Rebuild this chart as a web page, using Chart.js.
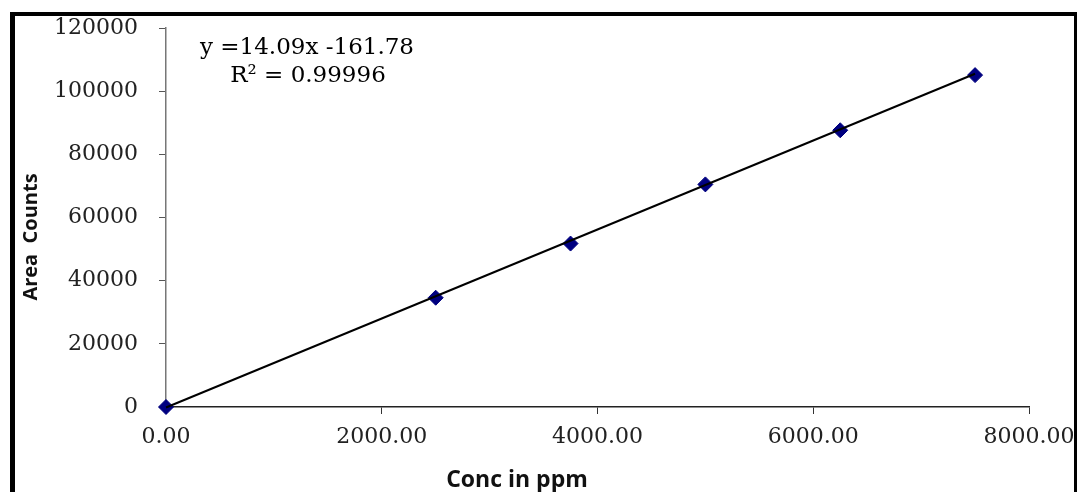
<!DOCTYPE html>
<html>
<head>
<meta charset="utf-8">
<script src="https://cdn.jsdelivr.net/npm/chart.js@4/dist/chart.umd.min.js"></script>
<style>
  html, body { margin: 0; padding: 0; background: #fff; overflow: hidden; }
  #wrap { position: relative; width: 1077px; height: 492px; }
  #frame { position: absolute; left: 10px; top: 12px; width: 1059px; height: 500px;
           border-left: 5px solid #000; border-top: 4px solid #000; border-right: 3px solid #000;
           pointer-events: none; }
</style>
</head>
<body>
<div id="wrap">
  <canvas id="c" width="1077" height="492"></canvas>
  <div id="frame"></div>
</div>
<script>
// ---- data ----
const concPpm   = [0, 2500, 3750, 5000, 6250, 7500];
const areaCounts = [0, 34600, 51750, 70480, 87620, 105080];
const xTicks = [0, 2000, 4000, 6000, 8000];
const xTickLabels = ['0.00', '2000.00', '4000.00', '6000.00', '8000.00'];
const yTicks = [0, 20000, 40000, 60000, 80000, 100000, 120000];
const yTickLabels = ['0', '20000', '40000', '60000', '80000', '100000', '120000'];
const xTitle = 'Conc in ppm';
const yTitle = 'Area  Counts';
// trendline reported on the chart
const slope = 14.09;
const intercept = -161.78;
const equationText = 'y =14.09x -161.78';
const r2Text = 'R\u00B2 = 0.99996';

const points = concPpm.map((x, i) => ({ x: x, y: areaCounts[i] }));
const xMinData = Math.min(...concPpm), xMaxData = Math.max(...concPpm);
const trend = [
  { x: xMinData, y: slope * xMinData + intercept },
  { x: xMaxData, y: slope * xMaxData + intercept }
];

const serif = '"DejaVu Serif", "Liberation Serif", serif';
const sans = '"Open Sans", sans-serif';

const bgPlugin = {
  id: 'bg',
  beforeDraw(chart) {
    const ctx = chart.ctx;
    ctx.save();
    ctx.fillStyle = '#fff';
    ctx.fillRect(0, 0, chart.width, chart.height);
    ctx.restore();
  }
};
const textPlugin = {
  id: 'texts',
  afterDraw(chart) {
    const ctx = chart.ctx;
    ctx.save();
    ctx.fillStyle = '#000';
    ctx.font = '23px ' + serif;
    ctx.textAlign = 'center';
    ctx.textBaseline = 'middle';
    ctx.fillText(equationText, 307, 48);
    ctx.fillText(r2Text, 308, 76);
    // axis titles
    ctx.fillStyle = '#111';
    ctx.font = 'bold 23px ' + sans;
    ctx.fillText(xTitle, 517, 480);
    ctx.translate(31, 237);
    ctx.rotate(-Math.PI / 2);
    ctx.font = 'bold 20px ' + sans;
    ctx.fillText(yTitle, 0, 0);
    ctx.restore();
  }
};

new Chart(document.getElementById('c'), {
  type: 'scatter',
  data: {
    datasets: [
      {
        type: 'line',
        label: 'Trend',
        data: trend,
        borderColor: '#000',
        borderWidth: 2,
        pointRadius: 0,
        fill: false,
        clip: false,
        order: 0
      },
      {
        label: 'Area Counts',
        data: points,
        pointStyle: 'rectRot',
        pointRadius: 7.5,
        pointBackgroundColor: '#000080',
        pointBorderColor: '#000080',
        pointBorderWidth: 1,
        clip: false,
        order: 1
      }
    ]
  },
  options: {
    responsive: false,
    animation: false,
    layout: { padding: { top: 28, right: 48, left: 0, bottom: 0 } },
    plugins: { legend: { display: false }, tooltip: { enabled: false } },
    scales: {
      x: {
        type: 'linear',
        min: 0, max: 8000,
        afterBuildTicks(scale) { scale.ticks = xTicks.map(v => ({ value: v })); },
        ticks: {
          callback: (v) => xTickLabels[xTicks.indexOf(v)],
          font: { family: serif, size: 22 },
          color: '#222',
          padding: 10,
          maxRotation: 0,
          autoSkip: false
        },
        grid: { display: true, drawOnChartArea: false, tickLength: 7, color: '#333', tickColor: '#333' },
        border: { display: true, color: '#222', width: 1.5 },
        title: { display: false },
        afterFit(scale) { scale.height = 85; scale.paddingLeft = 0; scale.paddingRight = 0; }
      },
      y: {
        type: 'linear',
        min: 0, max: 120000,
        afterBuildTicks(scale) { scale.ticks = yTicks.map(v => ({ value: v })); },
        ticks: {
          callback: (v) => yTickLabels[yTicks.indexOf(v)],
          font: { family: serif, size: 22 },
          color: '#222',
          padding: 21,
          autoSkip: false
        },
        grid: { display: true, drawOnChartArea: false, tickLength: 7, color: '#777', tickColor: '#555' },
        border: { display: true, color: '#777', width: 1.5 },
        title: { display: false },
        afterFit(scale) { scale.width = 166; scale.paddingTop = 0; scale.paddingBottom = 0; }
      }
    }
  },
  plugins: [bgPlugin, textPlugin]
});
</script>
</body>
</html>
